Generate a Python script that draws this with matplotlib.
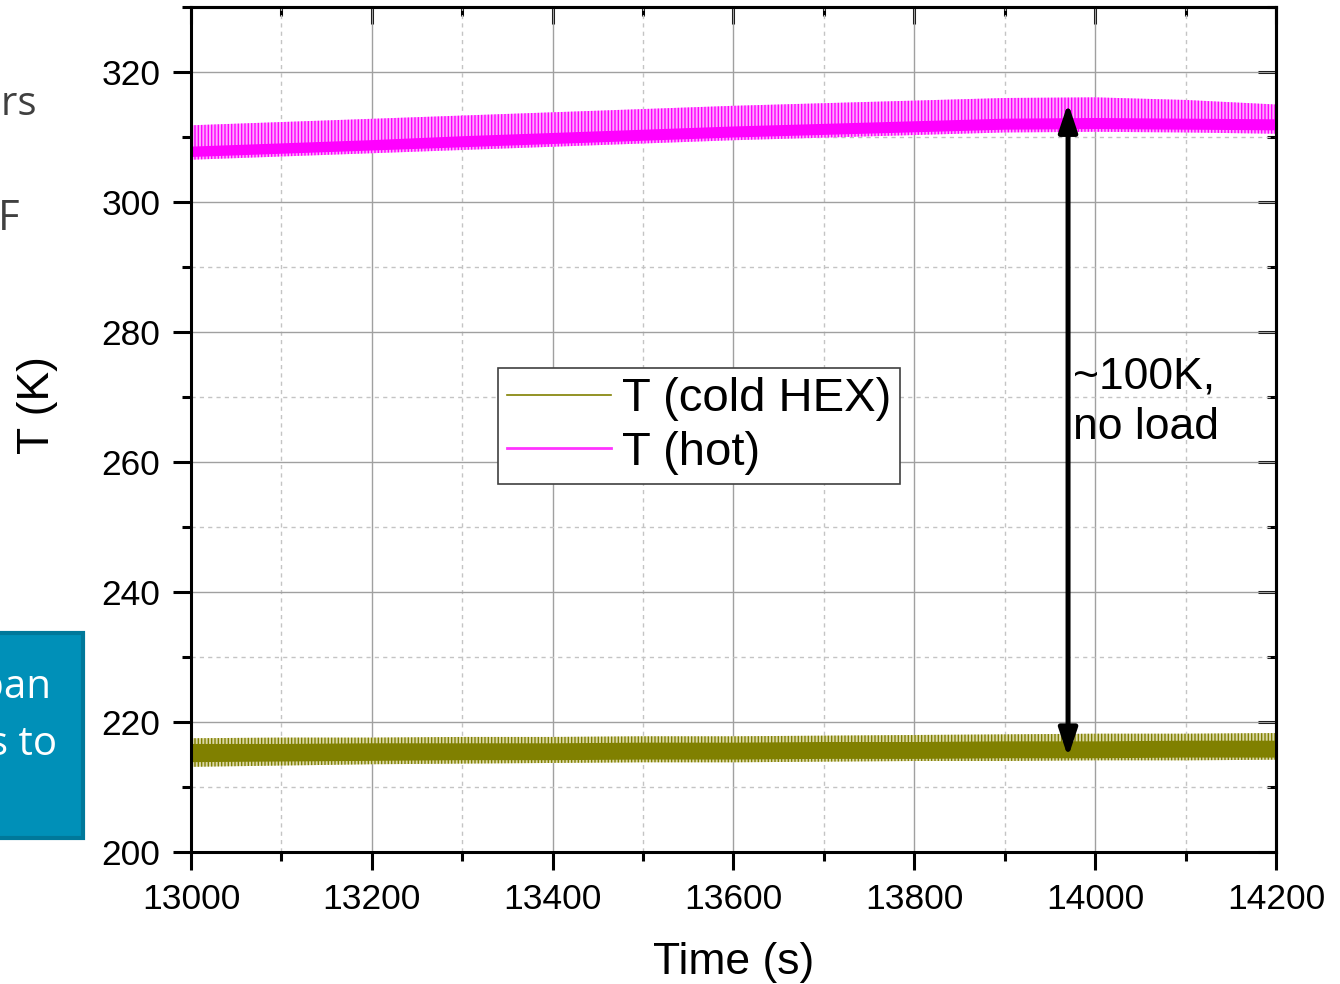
import numpy as np
import matplotlib
matplotlib.use("Agg")
import matplotlib.pyplot as plt
from matplotlib.patches import Rectangle
from matplotlib.ticker import MultipleLocator

W, H = 1340, 984

# time axis (s) and temperature envelopes (K)
time_s = [13000, 13100, 13200, 13300, 13400, 13500, 13600, 13700, 13800, 13900, 14000, 14100, 14200]

# hot side: outer spike envelope and dense core band
hot_hi = [311.8, 312.3, 312.8, 313.3, 313.8, 314.3, 314.8, 315.2, 315.6, 316.0, 316.1, 315.7, 315.0]
hot_lo = [306.5, 307.0, 307.5, 308.0, 308.5, 309.0, 309.5, 309.9, 310.3, 310.7, 310.8, 310.7, 310.5]
hot_core_hi = [308.6, 309.1, 309.6, 310.2, 310.7, 311.2, 311.7, 312.1, 312.5, 312.9, 313.0, 312.9, 312.8]
hot_core_lo = [307.0, 307.5, 308.0, 308.5, 309.0, 309.5, 310.0, 310.4, 310.8, 311.2, 311.3, 311.2, 311.1]

# cold heat exchanger
cold_hi = [217.5, 217.6, 217.6, 217.7, 217.7, 217.8, 217.8, 217.9, 218.0, 218.1, 218.2, 218.2, 218.3]
cold_lo = [213.1, 213.3, 213.5, 213.6, 213.7, 213.8, 213.8, 213.9, 214.0, 214.0, 214.1, 214.1, 214.2]
cold_core_hi = [216.7, 216.7, 216.8, 216.8, 216.8, 216.9, 216.9, 217.0, 217.0, 217.1, 217.1, 217.2, 217.2]
cold_core_lo = [213.9, 214.0, 214.1, 214.2, 214.2, 214.3, 214.3, 214.4, 214.4, 214.5, 214.5, 214.6, 214.6]

# arrow between the two curves
gap_time = 13970
gap_top, gap_bottom = 315.2, 214.6

plt.rcParams['font.family'] = ['Liberation Sans', 'DejaVu Sans']
plt.rcParams['hatch.linewidth'] = 1.0

fig = plt.figure(figsize=(W / 100, H / 100), dpi=100)
ax = fig.add_axes([191 / W, 1 - 852 / H, (1276 - 191) / W, (852 - 7) / H])

ax.set_xlim(13000, 14200)
ax.set_ylim(200, 330)
ax.xaxis.set_major_locator(MultipleLocator(200))
ax.xaxis.set_minor_locator(MultipleLocator(100))
ax.yaxis.set_major_locator(MultipleLocator(20))
ax.yaxis.set_minor_locator(MultipleLocator(10))
ax.set_yticks([200, 220, 240, 260, 280, 300, 320])

ax.grid(which='major', color='#a0a0a0', lw=1.0, ls='-')
ax.grid(which='minor', color='#c4c4c4', lw=1.0, ls=(0, (3, 3)))
ax.set_axisbelow(True)

for sp in ax.spines.values():
    sp.set_linewidth(2.2)
ax.tick_params(which='major', direction='out', length=13, width=2.2, labelsize=25.5, pad=9)
ax.tick_params(which='minor', direction='out', length=6.5, width=2.2)

# top and right axes with inward ticks, no labels
top = ax.secondary_xaxis('top')
top.xaxis.set_major_locator(MultipleLocator(200))
top.xaxis.set_minor_locator(MultipleLocator(100))
top.tick_params(which='major', direction='in', length=12, width=2.2, labeltop=False)
top.tick_params(which='minor', direction='in', length=6.5, width=2.2)
top.spines['top'].set_linewidth(2.2)
right = ax.secondary_yaxis('right')
right.yaxis.set_major_locator(MultipleLocator(20))
right.yaxis.set_minor_locator(MultipleLocator(10))
right.tick_params(which='major', direction='in', length=13, width=2.2, labelright=False)
right.tick_params(which='minor', direction='in', length=6.5, width=2.2)
right.spines['right'].set_linewidth(2.2)

# signal bands: hatched outer envelope for the fast oscillation, solid core
ax.fill_between(time_s, cold_lo, cold_hi, facecolor='#d9d6a6', edgecolor='#808000',
                hatch='|||||', lw=0)
ax.fill_between(time_s, cold_core_lo, cold_core_hi, color='#808000', lw=0)
ax.fill_between(time_s, hot_lo, hot_hi, facecolor='#ffa6ff', edgecolor='#ff00ff',
                hatch='|||||', lw=0)
ax.fill_between(time_s, hot_core_lo, hot_core_hi, color='#ff00ff', lw=0)

# legend handles
ax.plot([], [], color='#808000', lw=1.2, label='T (cold HEX)')
ax.plot([], [], color='#ff33ff', lw=2.0, label='T (hot)')
leg = ax.legend(loc='upper left', bbox_to_anchor=((498 - 191) / 1085, (852 - 368) / 845),
                borderaxespad=0, fontsize=34, handlelength=2.2, handletextpad=0.22,
                labelspacing=0.2, borderpad=0.2, fancybox=False, framealpha=1)
leg.get_frame().set_edgecolor('#404040')
leg.get_frame().set_linewidth(1.2)

ax.annotate('', xy=(gap_time, gap_top), xytext=(gap_time, gap_bottom),
            arrowprops=dict(arrowstyle='<|-|>,head_length=0.6,head_width=0.2',
                            lw=3.6, color='black', mutation_scale=28,
                            shrinkA=0, shrinkB=0))
ax.text(13976, 276.3, '~100K,\nno load', fontsize=32, va='top', ha='left', linespacing=1.3)

ax.set_xlabel('Time (s)', fontsize=32, labelpad=19)


def fx(px):
    return px / W


def fy(py):
    return 1 - py / H


fig.text(fx(38), fy(405), 'T (K)', fontsize=32, rotation=90, ha='center', va='center')

# pieces of the surrounding slide
slide_font = ['Open Sans', 'DejaVu Sans']
fig.text(fx(37), fy(115), 'sensors', fontsize=29, color='#404040', ha='right',
         va='baseline', family=slide_font)
fig.text(fx(-2), fy(230), 'F', fontsize=30, color='#404040', ha='left',
         va='baseline', family=slide_font)
fig.patches.append(Rectangle((fx(-20), fy(838)), fx(103), (838 - 633) / H,
                             transform=fig.transFigure, facecolor='#0090b8',
                             edgecolor='#00789a', lw=3))
fig.text(fx(52), fy(698), 'span', fontsize=29, color='white', ha='right',
         va='baseline', family=slide_font)
fig.text(fx(57), fy(755), 'aims to', fontsize=29, color='white', ha='right',
         va='baseline', family=slide_font)

plt.savefig('out.png', dpi=100)
